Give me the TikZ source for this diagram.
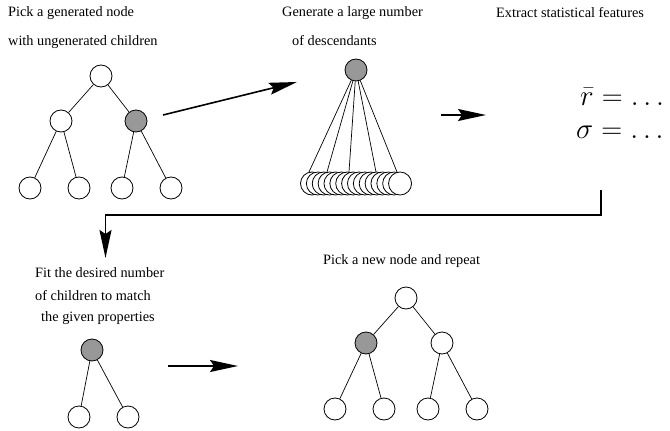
\RequirePackage{fix-cm}
\documentclass[tikz,border=0pt]{standalone}
\usepackage{fontspec}
\setmainfont{Liberation Serif}
\usetikzlibrary{arrows.meta}

\begin{document}
\begin{tikzpicture}[x=1pt,y=-1pt,
  every node/.style={inner sep=0pt},
  vertex/.style={circle,draw,line width=0.8pt,minimum size=22pt,fill=white},
  picked/.style={vertex,fill=gray!85!black!70},
  edge/.style={line width=0.7pt},
  caption/.style={anchor=west,font=\fontsize{14.3}{17}\selectfont},
  formula/.style={anchor=base west,font=\fontsize{29}{33}\selectfont},
  flow/.style={line width=1.6pt,-{Stealth[length=28pt,width=12pt,inset=4pt]}}]
\useasboundingbox (0,0) rectangle (670,431);

% captions
\node[caption] (c1a) at (8,13) {Pick a generated node};
\node[caption] (c1b) at (8,42) {with ungenerated children};
\node[caption] (c2a) at (282,13) {Generate a large number};
\node[caption] (c2b) at (292,41) {of descendants};
\node[caption] (c3) at (496,13) {Extract statistical features};
\node[caption] (c4a) at (35,273) {Fit the desired number};
\node[caption] (c4b) at (35,296) {of children to match};
\node[caption] (c4c) at (41,318) {the given properties};
\node[caption] (c5) at (323,261) {Pick a new node and repeat};

% first tree
\node[vertex] (t1r) at (101,76) {};
\node[vertex] (t1a) at (61,121) {};
\node[picked] (t1b) at (136,121) {};
\node[vertex] (t1l1) at (30,188) {};
\node[vertex] (t1l2) at (79,188) {};
\node[vertex] (t1l3) at (122,188) {};
\node[vertex] (t1l4) at (171,188) {};
\draw[edge] (t1r) -- (t1a);
\draw[edge] (t1r) -- (t1b);
\draw[edge] (t1a) -- (t1l1);
\draw[edge] (t1a) -- (t1l2);
\draw[edge] (t1b) -- (t1l3);
\draw[edge] (t1b) -- (t1l4);

% generated descendants
\node[picked] (g) at (356,70) {};
\foreach \i in {0,...,15}
  \node[vertex,minimum size=23pt] (d\i) at ({312+\i*5.87},183.5) {};
\foreach \k/\x in {1/309,2/327,3/349,4/376,5/397} {
  \coordinate (e\k) at (\x,172);
  \draw[edge] (g) -- (e\k);
}

% statistics
\node[formula] (mean) at (580,105) {$\bar r = \ldots$};
\node[formula] (sdev) at (576,138) {$\sigma = \ldots$};

% fitted node
\node[picked] (f) at (92,350) {};
\node[vertex] (fl1) at (79,417) {};
\node[vertex] (fl2) at (128,417) {};
\draw[edge] (f) -- (fl1);
\draw[edge] (f) -- (fl2);

% last tree
\node[vertex] (t2r) at (406,298) {};
\node[picked] (t2a) at (366,343) {};
\node[vertex] (t2b) at (442,343) {};
\node[vertex] (t2l1) at (335,409) {};
\node[vertex] (t2l2) at (384,409) {};
\node[vertex] (t2l3) at (428,409) {};
\node[vertex] (t2l4) at (477,409) {};
\draw[edge] (t2r) -- (t2a);
\draw[edge] (t2r) -- (t2b);
\draw[edge] (t2a) -- (t2l1);
\draw[edge] (t2a) -- (t2l2);
\draw[edge] (t2b) -- (t2l3);
\draw[edge] (t2b) -- (t2l4);

% flow arrows
\coordinate (a1s) at (163,115);
\coordinate (a1e) at (297,82);
\coordinate (a2s) at (441,115);
\coordinate (a2e) at (486,115);
\coordinate (a3s) at (168,366);
\coordinate (a3e) at (238,366);
\coordinate (bs) at (601,190);
\coordinate (bc1) at (601,215);
\coordinate (bc2) at (105.5,215);
\coordinate (be) at (105.5,258);
\draw[flow] (a1s) -- (a1e);
\draw[flow] (a2s) -- (a2e);
\draw[flow] (a3s) -- (a3e);
\draw[flow,line join=miter] (bs) -- (bc1) -- (bc2) -- (be);
\end{tikzpicture}
\end{document}
